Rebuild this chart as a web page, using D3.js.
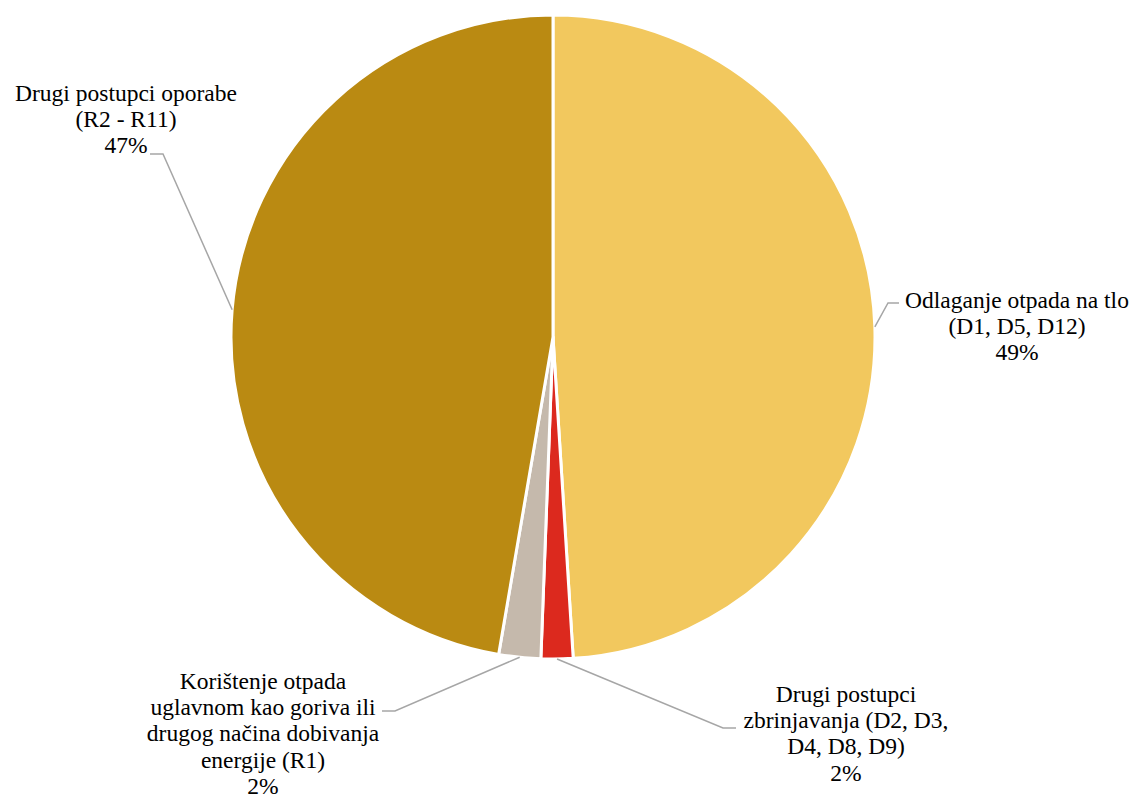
<!DOCTYPE html>
<html lang="hr">
<head>
<meta charset="utf-8">
<title>Postupci obrade otpada</title>
<script src="https://d3js.org/d3.v7.min.js"></script>
<style>
    body { margin: 0; background: #fff; }
</style>
</head>
<body>
<div id="chart"></div>
<script>
    // data, clockwise from 12 o'clock
    var categories = [
        "Odlaganje otpada na tlo (D1, D5, D12)",
        "Drugi postupci zbrinjavanja (D2, D3, D4, D8, D9)",
        "Korištenje otpada uglavnom kao goriva ili drugog načina dobivanja energije (R1)",
        "Drugi postupci oporabe (R2 - R11)"
    ];
    var values = [49.0, 1.6, 2.1, 47.3];
    var labelLines = [
        ["Odlaganje otpada na tlo", "(D1, D5, D12)"],
        ["Drugi postupci", "zbrinjavanja (D2, D3,", "D4, D8, D9)"],
        ["Korištenje otpada", "uglavnom kao goriva ili", "drugog načina dobivanja", "energije (R1)"],
        ["Drugi postupci oporabe", "(R2 - R11)"]
    ];
    var colors = ["#F2C85E", "#DC291E", "#C5B9AC", "#BA8A12"];

    // label layout (x = centre of text block, y = first line, elbow = leader bend)
    var labelPos = [
        { x: 1017, y: 300, elbow: [888, 303], end: [899, 303] },
        { x: 846,  y: 694, elbow: [723, 728], end: [736, 728] },
        { x: 263,  y: 681, elbow: [395, 711], end: [382, 711] },
        { x: 126,  y: 93,  elbow: [163, 154], end: [150, 154] }
    ];

    var width = 1137, height = 799;
    var cx = 553, cy = 337, radius = 322;
    var lineH = 26.2;

    var svg = d3.select("#chart").append("svg")
        .attr("width", width)
        .attr("height", height);

    var pie = d3.pie().sort(null).value(function(d){ return d; });
    var arcs = pie(values);
    var total = d3.sum(values);

    var arc = d3.arc().innerRadius(0).outerRadius(radius);

    var g = svg.append("g").attr("transform", "translate(" + cx + "," + cy + ")");

    g.selectAll("path.slice")
        .data(arcs)
        .enter()
        .append("path")
        .attr("class", "slice")
        .attr("d", arc)
        .style("fill", function(d, i){ return colors[i]; })
        .style("stroke", "#fff")
        .style("stroke-width", 3)
        .style("stroke-linejoin", "round");

    // leader lines
    svg.selectAll("polyline.leader")
        .data(arcs)
        .enter()
        .append("polyline")
        .attr("class", "leader")
        .attr("points", function(d, i){
            var a = (d.startAngle + d.endAngle) / 2;
            var p0 = [cx + radius * Math.sin(a), cy - radius * Math.cos(a)];
            var lp = labelPos[i];
            return [p0, lp.elbow, lp.end].map(function(p){ return p.join(","); }).join(" ");
        })
        .style("fill", "none")
        .style("stroke", "#A6A6A6")
        .style("stroke-width", 1.5);

    // labels
    var labels = svg.selectAll("text.lbl")
        .data(arcs)
        .enter()
        .append("text")
        .attr("class", "lbl")
        .attr("font-family", "'Liberation Serif', 'Times New Roman', serif")
        .attr("font-size", 23.5)
        .attr("fill", "#000")
        .attr("text-anchor", "middle")
        .attr("dominant-baseline", "central");

    labels.each(function(d, i){
        var t = d3.select(this);
        var lines = labelLines[i].concat([Math.round(d.value / total * 100) + "%"]);
        lines.forEach(function(s, k){
            t.append("tspan")
                .attr("x", labelPos[i].x)
                .attr("y", labelPos[i].y + k * lineH)
                .text(s);
        });
    });
</script>
</body>
</html>
